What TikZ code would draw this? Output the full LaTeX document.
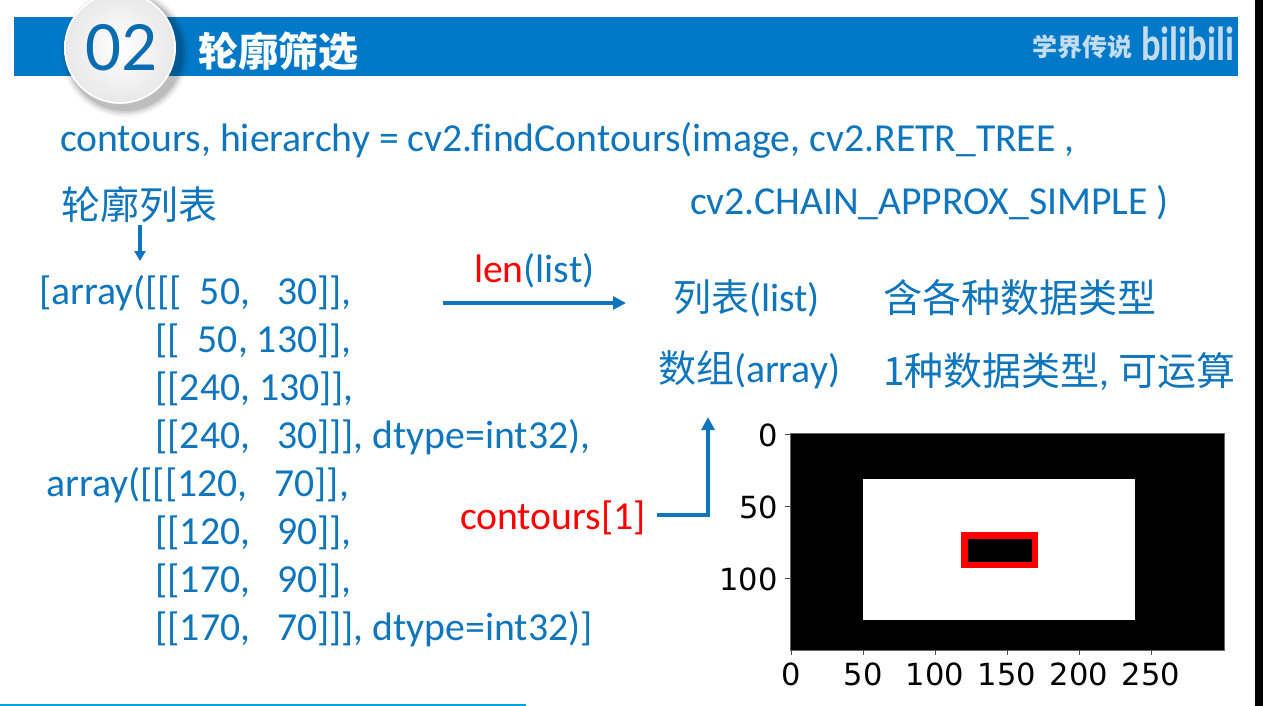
\documentclass[tikz,border=0pt]{standalone}
\usepackage{fontspec}
\setmainfont{Carlito}[Ligatures={NoCommon,TeX}]
\newfontfamily\cjk{Noto Sans CJK SC}
\newfontfamily\dvsans{DejaVu Sans}
\usetikzlibrary{arrows.meta}
\definecolor{barblue}{HTML}{0279C8}
\definecolor{txtblue}{HTML}{0F75BC}
\definecolor{logoblue}{HTML}{C3DCEE}
\definecolor{linecyan}{HTML}{00A3DC}
\definecolor{numblue}{HTML}{0A6CB0}
\tikzset{
  code/.style={anchor=base west,inner sep=0,outer sep=0,text=txtblue,font=\fontsize{39.7}{40}\selectfont},
  red code/.style={code,text=red},
  hand/.style={code,font=\cjk\fontsize{39}{39}\selectfont},
  tick lab/.style={inner sep=0,font=\dvsans\fontsize{30.5}{31}\selectfont,text=black},
  axis tick/.style={draw=black!70,line width=.8pt},
  flow/.style={draw=txtblue,line width=3.2pt,-{Triangle[length=13pt,width=13pt]}},
}
\begin{document}
\begin{tikzpicture}[x=1pt,y=-1pt]
\useasboundingbox[fill=white] (0,0) rectangle (1263,706);
% frame strips
\fill[black] (1255,0) rectangle (1263,706);
\fill[linecyan] (0,704) rectangle (526,706);
% title bar
\fill[barblue] (14,17) rectangle (1238,76);
% badge shadow and disc
\foreach \r/\o in {64/.04,62/.06,60/.08,58/.10}{
  \fill[black,opacity=\o] (125,53) circle (\r);}
\shade[inner color=white,outer color=black!9] (120,48) circle (56);
\draw[white,line width=1.5pt] (120,48) circle (55);
\node[inner sep=0,text=numblue,font=\fontsize{71}{71}\selectfont] (num) at (121,48) {02};
\node[anchor=west,inner sep=0,text=white,font=\cjk\bfseries\fontsize{40}{40}\selectfont] (title) at (198,51) {轮廓筛选};
\node[anchor=west,inner sep=0,text=logoblue,font=\cjk\bfseries\fontsize{25}{25}\selectfont] (author) at (1032,47) {学界传说};
\node[anchor=west,inner sep=0,text=logoblue,font=\bfseries\fontsize{48}{48}\selectfont] (logo) at (1141,44) {\scalebox{.76}[1]{bilibili}};
% formula
\node[code] (f1) at (60,151) {contours, hierarchy = cv2.findContours(image, cv2.RETR\_TREE ,};
\node[code] (f2) at (690,214) {cv2.CHAIN\_APPROX\_SIMPLE )};
\node[hand,anchor=center] (lb) at (139,205) {轮廓列表};
% array text
\node[code] (a1) at (39,304) {[array([[[\ \ 50,\ \ \ 30]],};
\node[code] (a2) at (155.5,352) {[[\ \ 50, 130]],};
\node[code] (a3) at (155.5,400) {[[240, 130]],};
\node[code] (a4) at (155.5,448) {[[240,\ \ \ 30]]], dtype=int32),};
\node[code] (a5) at (46.5,496) {array([[[120,\ \ \ 70]],};
\node[code] (a6) at (155.5,544) {[[120,\ \ \ 90]],};
\node[code] (a7) at (155.5,592) {[[170,\ \ \ 90]],};
\node[code] (a8) at (155.5,640) {[[170,\ \ \ 70]]], dtype=int32)]};
% middle
\node[code] (len) at (474,282) {\textcolor{red}{len}(list)};
\node[red code] (c1) at (460,529) {contours[1]};
\node[code] (l1) at (673,311) {{\cjk\fontsize{38}{38}\selectfont 列表}(list)};
\node[code] (l2) at (658,382) {{\cjk\fontsize{38}{38}\selectfont 数组}(array)};
\node[hand] (d1) at (883,312) {含各种数据类型};
\node[code] (d2) at (883,385) {{\cjk\fontsize{39}{39}\selectfont 1种数据类型}, {\cjk\fontsize{39}{39}\selectfont 可运算}};
% arrows
\coordinate (ltip) at (140,261);
\coordinate (lenL) at (443,303);
\coordinate (lenR) at (626,303);
\coordinate (cS) at (657,515);
\coordinate (cC) at (708,515);
\coordinate (cT) at (708,417);
\draw[flow,-{Triangle[length=10pt,width=11pt]}] (lb.south -| ltip) ++(0,2) -- (ltip);
\draw[flow] (lenL) -- (lenR);
\draw[flow] (cS) -- (cC) -- (cT);
% plot
\node[draw=black!60,line width=.5pt,fill=black,minimum width=434pt,minimum height=217pt,inner sep=0,anchor=north west] (plot) at (790,433) {};
\fill[white] (863,479) rectangle (1135,620);
\fill[red] (961,532) rectangle (1038,568);
\fill[black] (968,539) rectangle (1032,562);
% ticks and labels
\foreach \v/\x in {0/791,50/863,100/935,150/1007,200/1079,250/1151}{
  \draw[axis tick] (\x,650) -- (\x,655);
  \node[tick lab,anchor=base] at (\x,685) {\v};
}
\foreach \v/\y in {0/434,50/506,100/578}{
  \draw[axis tick] (790,\y) -- (785,\y);
  \node[tick lab,anchor=east] at (778,\y+1) {\v};
}
\end{tikzpicture}
\end{document}
